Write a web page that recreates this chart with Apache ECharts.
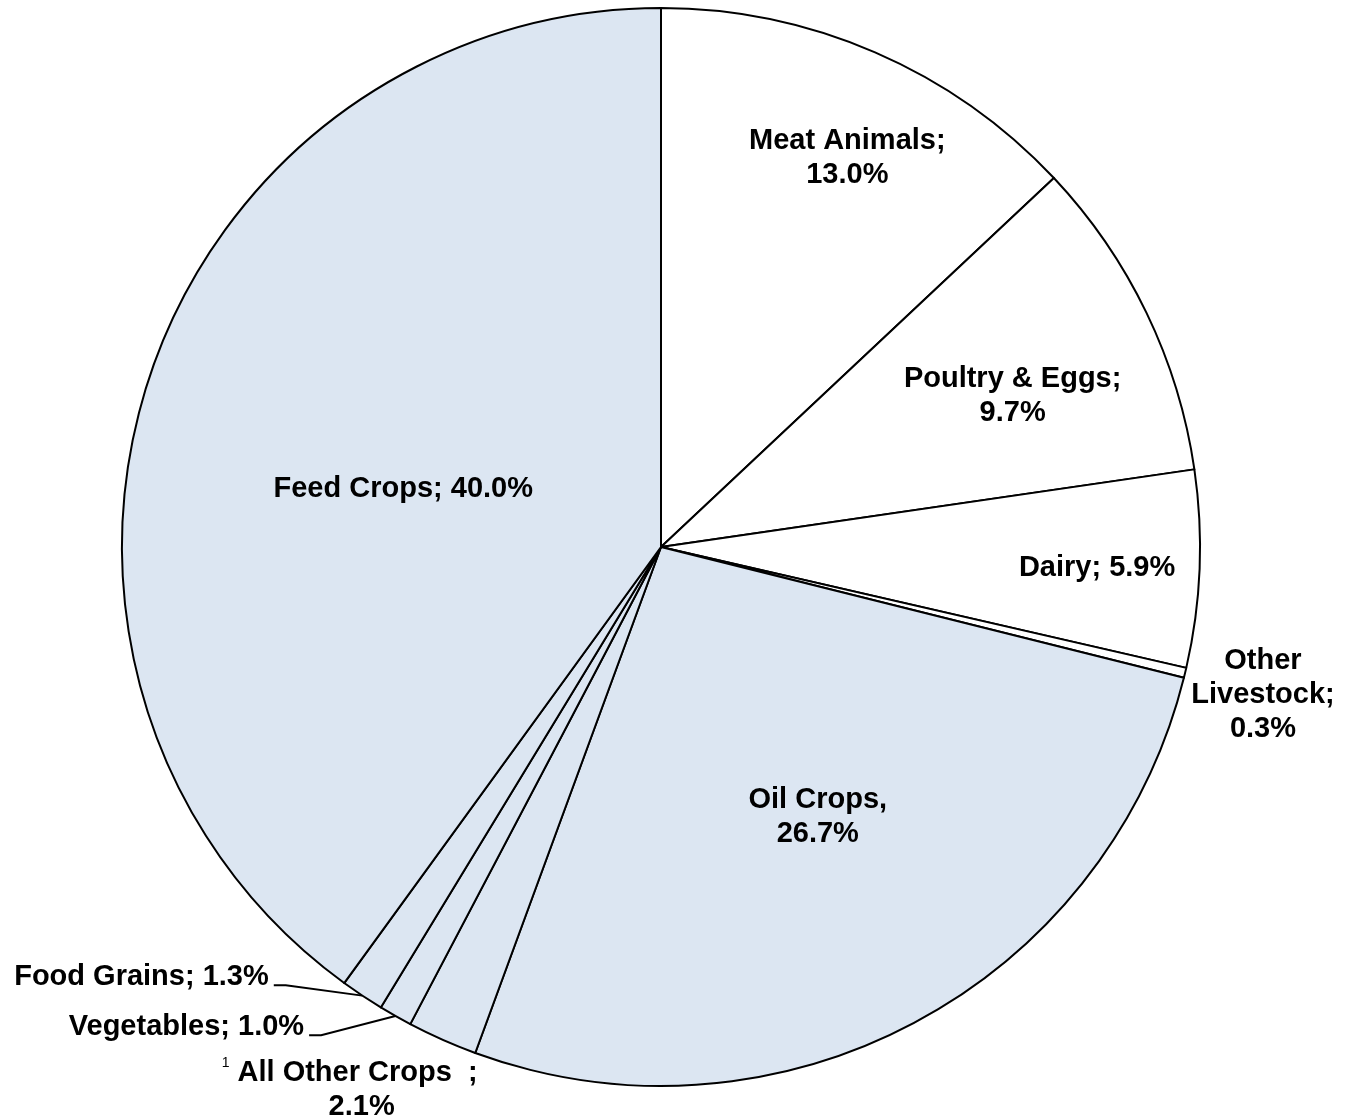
<!DOCTYPE html>
<html>
<head>
<meta charset="utf-8">
<script src="https://cdn.jsdelivr.net/npm/echarts@6/dist/echarts.min.js"></script>
<style>
html, body { margin: 0; padding: 0; background: #fff; }
#main { width: 1349px; height: 1118px; }
</style>
</head>
<body>
<div id="main"></div>
<script>
// slices, clockwise from 12 o'clock
var categories = ['Meat Animals', 'Poultry & Eggs', 'Dairy', 'Other Livestock', 'Oil Crops',
                  'All Other Crops', 'Vegetables', 'Food Grains', 'Feed Crops'];
var shares = [13.0, 9.7, 5.9, 0.3, 26.7, 2.1, 1.0, 1.3, 40.0];
var groups = ['livestock', 'livestock', 'livestock', 'livestock', 'crops',
              'crops', 'crops', 'crops', 'crops'];

var groupColor = { livestock: '#ffffff', crops: '#dce6f2' };

// label placement: fraction of radius and angle nudge (deg) from the slice middle
var labelRadius = [0.80, 0.71, 0.81, 1.15, 0.58, 1.161, 1.11, 1.08, 0.49];
var labelTurn   = [2.2, 2.5, 0.4, 0.3, -2.2, 5.9, 7.1, 8.7, -5.4];
var leader      = [false, false, false, false, false, false, true, true, false];

var CX = 661, CY = 547, R = 539;

// mid angle of every slice, degrees clockwise from top
var total = shares.reduce(function (a, b) { return a + b; }, 0);
var midAngle = [];
var acc = 0;
for (var i = 0; i < shares.length; i++) {
    midAngle.push((acc + shares[i] / 2) / total * 360);
    acc += shares[i];
}

function polar(angleDeg, r) {
    var a = angleDeg * Math.PI / 180;
    return [CX + r * Math.sin(a), CY - r * Math.cos(a)];
}

function labelText(p) {
    var pct = p.value.toFixed(1) + '%';
    switch (p.name) {
        case 'Meat Animals':
        case 'Poultry & Eggs':
            return p.name + ';\n' + pct;
        case 'Other Livestock':
            return 'Other\nLivestock;\n' + pct;
        case 'Oil Crops':
            return p.name + ',\n' + pct;
        case 'All Other Crops':
            return '{sup|1} ' + p.name + '  ;\n{pad|' + pct + '}';
        default:
            return p.name + '; ' + pct;
    }
}

var pieData = [];
for (var j = 0; j < categories.length; j++) {
    pieData.push({
        name: categories[j],
        value: shares[j],
        itemStyle: { color: groupColor[groups[j]] },
        label: { position: leader[j] ? 'outside' : 'inside' },
        labelLine: { show: leader[j] }
    });
}

var chart = echarts.init(document.getElementById('main'));

var option = {
    animation: false,
    backgroundColor: '#ffffff',
    series: [{
        type: 'pie',
        center: [CX, CY],
        radius: R,
        startAngle: 90,
        clockwise: true,
        avoidLabelOverlap: false,
        emphasis: { disabled: true },
        itemStyle: { borderColor: '#000', borderWidth: 2 },
        label: {
            show: true,
            formatter: labelText,
            fontFamily: '"Liberation Sans", Arial, sans-serif',
            fontWeight: 'bold',
            fontSize: 29,
            lineHeight: 34,
            color: '#000',
            overflow: 'none',
            rich: {
                sup: { fontSize: 14, fontWeight: 'normal', verticalAlign: 'top', padding: [0, 0, 16, 0] },
                pad: { padding: [0, 0, 0, 24] }
            }
        },
        labelLine: {
            show: false,
            length: 10,
            length2: 10,
            lineStyle: { color: '#000', width: 2 }
        },
        labelLayout: function (params) {
            var k = params.dataIndex;
            var pos = polar(midAngle[k] + labelTurn[k], R * labelRadius[k]);
            if (leader[k]) {
                var edge = polar(midAngle[k], R);
                return {
                    x: pos[0], y: pos[1],
                    align: 'right', verticalAlign: 'middle',
                    labelLinePoints: [edge, [pos[0] + 17, pos[1] + 8], [pos[0] + 5, pos[1] + 8]]
                };
            }
            return { x: pos[0], y: pos[1], align: 'center', verticalAlign: 'middle' };
        },
        data: pieData
    }]
};

chart.setOption(option);
</script>
</body>
</html>
